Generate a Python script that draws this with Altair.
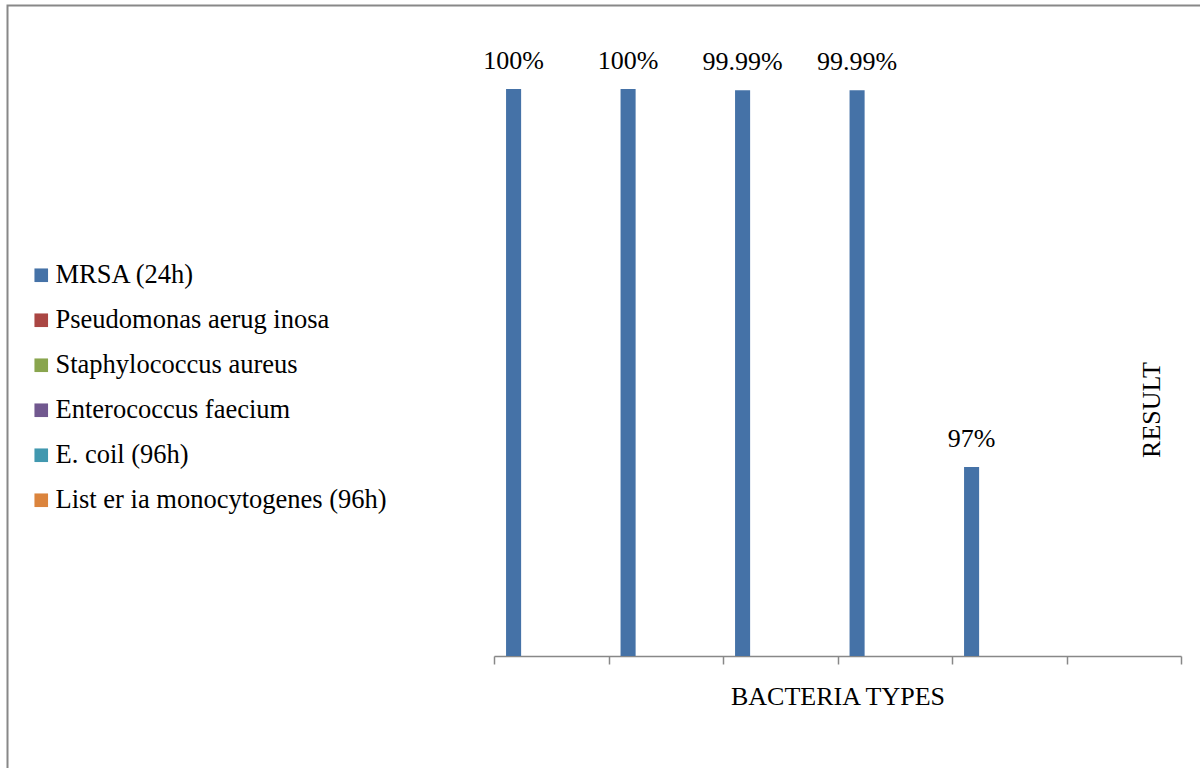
import altair as alt
import pandas as pd

categories = ["T1", "T2", "T3", "T4", "T5", "T6"]
series = [
    "MRSA (24h)",
    "Pseudomonas aerug inosa",
    "Staphylococcus aureus",
    "Enterococcus faecium",
    "E. coil (96h)",
    "List er ia monocytogenes (96h)",
]
colors = ["#4572A7", "#AA4643", "#89A54E", "#71588F", "#4198AF", "#DB843D"]
mrsa_categories = ["T1", "T2", "T3", "T4", "T5"]
mrsa_values = [100, 100, 99.99, 99.99, 97]
mrsa_labels = ["100%", "100%", "99.99%", "99.99%", "97%"]
y_min, y_max = 95.5, 100.5

FONT = "Liberation Serif"
FS = 26
W, H = 687, 630

df = pd.DataFrame({
    "cat": mrsa_categories,
    "series": [series[0]] * len(mrsa_values),
    "value": mrsa_values,
    "label": mrsa_labels,
})

base = alt.Chart(df)

x_enc = alt.X(
    "cat:N",
    scale=alt.Scale(domain=categories, paddingInner=0, paddingOuter=0),
    axis=alt.Axis(
        title="BACTERIA TYPES",
        labels=False,
        tickBand="extent",
        tickSize=8,
        tickColor="#888888",
        tickWidth=1.5,
        domainColor="#888888",
        domainWidth=1.5,
        titleFont=FONT,
        titleFontSize=FS,
        titleFontWeight="normal",
        titleColor="#000000",
        titlePadding=19,
        grid=False,
    ),
)
xoff = alt.XOffset("series:N", scale=alt.Scale(domain=series, paddingInner=0, paddingOuter=0.8))
y_enc = alt.Y("value:Q", scale=alt.Scale(domain=[y_min, y_max], zero=False, clamp=True), axis=None)

bars = base.mark_bar().encode(
    x=x_enc,
    xOffset=xoff,
    y=y_enc,
    y2=alt.datum(y_min),
    color=alt.Color(
        "series:N",
        scale=alt.Scale(domain=series, range=colors),
        legend=alt.Legend(
            title=None,
            orient="none",
            legendX=-466,
            legendY=236,
            symbolType="square",
            symbolSize=185,
            symbolStrokeWidth=0,
            labelFont=FONT,
            labelFontSize=26.5,
            labelColor="#000000",
            labelLimit=500,
            labelOffset=1,
            rowPadding=18,
            padding=0,
        ),
    ),
)

labels = base.mark_text(
    font=FONT, fontSize=FS, color="#000000", baseline="alphabetic", dy=-20
).encode(
    x=x_enc,
    xOffset=xoff,
    y=y_enc,
    text="label:N",
)

frame = alt.Chart(pd.DataFrame({"a": [0]})).mark_rect(
    fill=None, stroke="#888888", strokeWidth=2
).encode(
    x=alt.value(-486.5), x2=alt.value(W + 40),
    y=alt.value(-20.5), y2=alt.value(H + 140),
)

result = alt.Chart(pd.DataFrame({"t": ["RESULT"]})).mark_text(
    font=FONT, fontSize=FS, color="#000000", angle=270, align="center", baseline="middle"
).encode(
    x=alt.value(658), y=alt.value(384), text="t:N"
)

chart = alt.layer(frame, bars, labels, result).properties(
    width=W,
    height=H,
    autosize=alt.AutoSizeParams(type="none"),
    padding={"left": 494, "top": 26, "right": 19, "bottom": 112},
    background="#ffffff",
).configure(font=FONT).configure_view(stroke=None)

chart.save("out.html", embed_options={"renderer": "svg", "actions": False})
